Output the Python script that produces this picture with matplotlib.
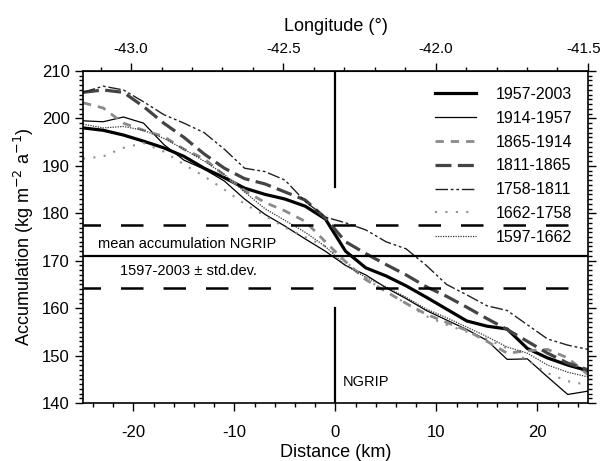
import matplotlib
matplotlib.use("Agg")
import matplotlib.pyplot as plt
import matplotlib.transforms as mtransforms
from matplotlib.ticker import MultipleLocator, FixedLocator, FormatStrFormatter

plt.rcParams['font.family'] = ['Liberation Sans', 'DejaVu Sans']
plt.rcParams['axes.unicode_minus'] = False

# distance from NGRIP (km)
dist = [-25, -23, -21, -19, -17, -15, -13, -11, -9, -7, -5, -3, -1,
        1, 3, 5, 7, 9, 11, 13, 15, 17, 19, 21, 23, 25]

acc_1957 = [198.0, 197.5, 196.5, 195.2, 193.8, 192.0, 189.5, 187.5, 185.3, 184.0, 183.0, 181.5, 178.8,
            172.0, 168.5, 166.8, 164.7, 162.3, 159.8, 157.3, 156.2, 155.6, 151.5, 149.5, 148.0, 146.8]
acc_1914 = [199.5, 199.3, 200.3, 199.0, 194.5, 191.2, 189.3, 186.8, 183.0, 179.8, 177.3, 174.6, 172.0,
            169.0, 167.0, 164.3, 162.0, 159.5, 157.5, 155.5, 153.2, 149.2, 149.3, 145.5, 141.8, 142.5]
acc_1865 = [203.3, 202.2, 199.0, 197.5, 196.2, 193.5, 191.5, 188.0, 184.8, 182.3, 180.5, 178.3, 174.0,
            169.8, 166.0, 163.5, 161.0, 158.7, 157.0, 155.3, 153.0, 150.5, 151.0, 151.3, 149.5, 146.0]
acc_1811 = [205.5, 206.0, 205.5, 202.5, 199.0, 196.0, 192.5, 189.5, 187.3, 186.2, 184.5, 182.8, 179.0,
            174.0, 171.5, 169.2, 167.0, 164.5, 162.5, 160.2, 157.8, 155.5, 153.0, 150.5, 148.4, 147.0]
acc_1758 = [205.5, 206.8, 206.0, 203.5, 200.8, 199.0, 197.0, 193.5, 189.5, 188.8, 187.0, 182.5, 179.2,
            178.0, 176.5, 174.0, 172.5, 169.0, 165.0, 162.8, 160.5, 159.5, 156.5, 153.5, 152.2, 151.3]
acc_1662 = [191.5, 192.0, 193.8, 194.8, 193.0, 190.3, 187.8, 185.0, 182.0, 179.5, 177.0, 175.0, 173.0,
            169.8, 166.2, 163.5, 161.0, 158.3, 156.5, 155.0, 153.5, 151.5, 149.0, 146.3, 144.6, 143.8]
acc_1597 = [198.8, 198.0, 198.3, 197.5, 195.8, 193.5, 191.0, 188.2, 184.5, 181.0, 178.5, 176.0, 173.0,
            169.0, 166.5, 164.5, 162.3, 159.8, 158.0, 156.0, 154.0, 151.8, 150.5, 148.0, 146.5, 145.5]

labels = ['1957-2003', '1914-1957', '1865-1914', '1811-1865', '1758-1811', '1662-1758', '1597-1662']
series = [acc_1957, acc_1914, acc_1865, acc_1811, acc_1758, acc_1662, acc_1597]

lon_ticks = [-43.0, -42.5, -42.0, -41.5]

mean_acc = 171.0
std_lo = 164.3
std_hi = 177.5

styles = [
    dict(color='black', lw=2.3, ls='-'),
    dict(color='black', lw=0.9, ls='-'),
    dict(color='#8a8a8a', lw=2.0, ls=(0, (3, 2.5))),
    dict(color='#444444', lw=2.3, ls=(0, (5, 2))),
    dict(color='#222222', lw=1.0, ls=(0, (9, 2, 2, 2, 2, 2))),
    dict(color='#909090', lw=1.5, ls=(0, (1, 4))),
    dict(color='#333333', lw=0.9, ls=(0, (1, 1))),
]

fig = plt.figure(figsize=(6.04, 4.61), dpi=100)
ax = fig.add_axes([0.1374, 0.1258, 0.836, 0.7202])

for vals, lab, st in zip(series, labels, styles):
    ax.plot(dist, vals, label=lab, **st)

ax.axhline(mean_acc, color='black', lw=1.6)
ax.axhline(std_hi, color='black', lw=1.8, ls=(2, (9, 8)))
ax.axhline(std_lo, color='black', lw=1.8, ls=(2, (9, 8)))
ax.plot([0, 0], [185.5, 210], color='black', lw=1.6)
ax.plot([0, 0], [140, 160], color='black', lw=1.6)

ax.text(-23.5, 172.6, 'mean accumulation NGRIP', fontsize=10.5)
ax.text(-21.3, 167.9, '1597-2003 \u00b1 std.dev.', fontsize=10.5, va='center')
ax.text(0.7, 144.4, 'NGRIP', fontsize=10.5, va='center')

ax.set_xlim(-25, 25)
ax.set_ylim(140, 210)
ax.xaxis.set_major_locator(MultipleLocator(10))
ax.xaxis.set_minor_locator(MultipleLocator(2))
ax.yaxis.set_major_locator(MultipleLocator(10))
ax.yaxis.set_minor_locator(MultipleLocator(1))
ax.tick_params(which='both', direction='out', top=False, right=True, labelsize=12, width=1)
ax.tick_params(which='major', length=6)
ax.tick_params(which='minor', length=3)
ax.tick_params(axis='x', pad=10)
for s in ax.spines.values():
    s.set_linewidth(1.2)

ax.set_xlabel('Distance (km)', fontsize=13, labelpad=3)
ax.set_ylabel('Accumulation (kg m$^{-2}$ a$^{-1}$)', fontsize=13, labelpad=4)

k = 0.03316


def d2lon(d):
    return -41.5 + (d - 25) * k


def lon2d(lon):
    return 25 + (lon + 41.5) / k


sec = ax.secondary_xaxis('top', functions=(d2lon, lon2d))
sec.xaxis.set_major_locator(FixedLocator(lon_ticks))
sec.xaxis.set_minor_locator(MultipleLocator(0.1))
sec.xaxis.set_major_formatter(FormatStrFormatter('%.1f'))
sec.tick_params(which='both', direction='out', labelsize=11, width=1, pad=5)
sec.tick_params(which='major', length=6)
sec.tick_params(which='minor', length=3)
sec.set_xlabel('Longitude (\u00b0)', fontsize=13, labelpad=8)

fig.canvas.draw()
last = sec.get_xticklabels()[-1]
last.set_transform(last.get_transform() + mtransforms.ScaledTranslation(-4 / 100, 0, fig.dpi_scale_trans))

ax.legend(loc='upper right', frameon=False, fontsize=11.5, handlelength=2.6,
          labelspacing=0.55, borderaxespad=0.6, handletextpad=1.2)

fig.savefig('out.png', dpi=100)
